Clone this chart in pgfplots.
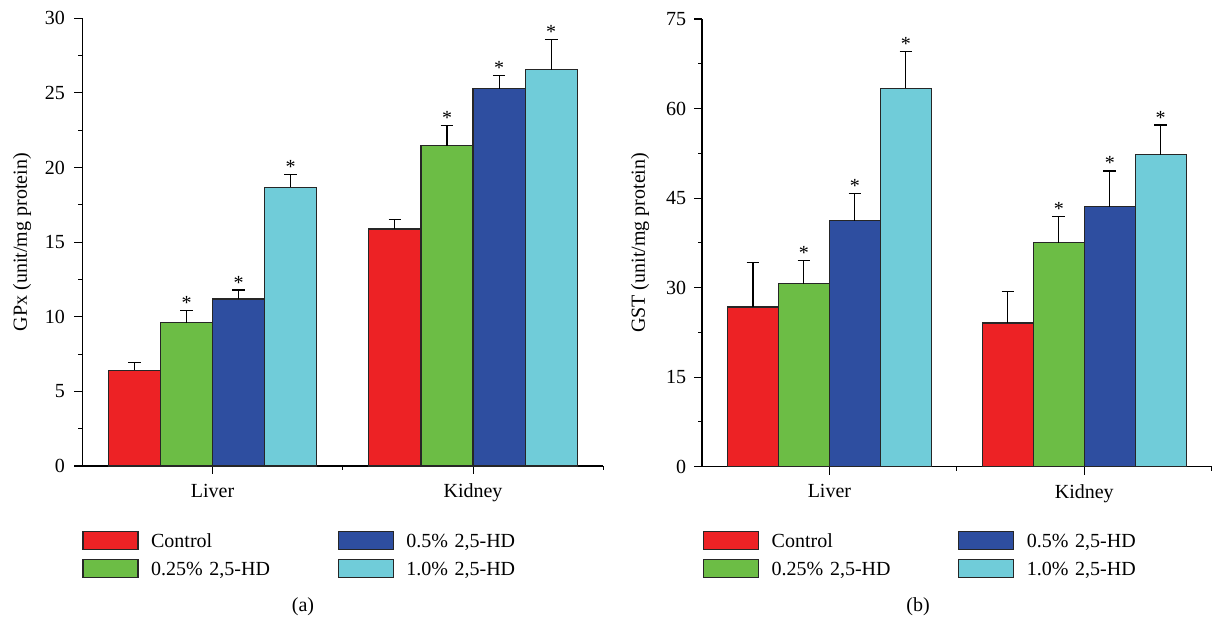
\documentclass[border=0pt]{standalone}
\usepackage{fontspec}
\setmainfont{Liberation Serif}
\usepackage{pgfplots}
\usepackage{pgfplotstable}
\pgfplotsset{compat=1.18}

\definecolor{cCtl}{RGB}{237,34,37}
\definecolor{cLow}{RGB}{108,189,69}
\definecolor{cMid}{RGB}{46,78,160}
\definecolor{cHigh}{RGB}{112,204,217}
\newcommand\ff{\fontsize{20}{24}\selectfont}

% x: 1 = Liver, 2 = Kidney; c = control, a = 0.25%, b = 0.5%, d = 1.0%; e = SD
\pgfplotstableread{
x  c     ce    a     ae    b     be    d     de
1  6.41  0.54  9.60  0.83  11.19 0.60  18.68 0.87
2  15.88 0.63  21.45 1.38  25.27 0.89  26.56 2.00
}\gpx
\pgfplotstableread{
x  c     ce    a     ae    b     be    d     de
1  26.75 7.43  30.66 3.85  41.21 4.59  63.39 6.14
2  24.07 5.31  37.53 4.42  43.56 5.98  52.27 4.97
}\gst

\pgfplotsset{
  panel/.style={
    scale only axis, height=447.7pt, ymin=0, xmin=0.5, xmax=2.5,
    axis x line*=bottom, axis y line*=left,
    axis line style={line width=1.1pt,-},
    tick align=outside, major tick length=8pt, minor tick length=4pt,
    tick style={line width=1.1pt, black},
    xtick={1,2}, xticklabels={Liver,Kidney}, minor xtick={1.5,2.5},
    minor y tick num=1,
    /pgf/number format/assume math mode=true,
    tick label style={font=\ff}, label style={font=\ff},
    xticklabel style={yshift=-3pt},
    clip=false,
    legend columns=2, transpose legend,
    legend image code/.code={\draw[##1] (0pt,-2pt) rectangle (55pt,16pt);},
    legend style={draw=none, fill=none, inner sep=0pt, outer sep=0pt,
      anchor=north west, row sep=6pt, column sep=12.5pt, font=\ff,
      nodes={inner sep=0pt, anchor=base west, text width=174pt,
        text height=14pt, text depth=5pt}},
  },
  bars/.style={ybar, bar width=0.2, bar shift=0pt, draw=black!85, line width=1.2pt,
    error bars/y dir=plus, error bars/y explicit,
    error bars/error mark=|,
    error bars/error bar style={black, line width=1.1pt},
    error bars/error mark options={black, line width=1.1pt, mark size=6.3pt}},
  stars/.style={draw=none, mark=none, forget plot, nodes near coords={*},
    every node near coord/.append style={anchor=base, inner sep=0pt,
      yshift=1pt, black, font=\ff}},
}

\begin{document}
\ff
\begin{tikzpicture}
\useasboundingbox (0,0) rectangle (1213pt,620pt);

\begin{axis}[panel, at={(82.3pt,154pt)}, anchor=south west, width=521pt,
  ymax=30, ytick={0,5,...,30}, yticklabel style={xshift=-2.5pt},
  ylabel={GPx (unit/mg protein)},
  ylabel style={at={(axis description cs:-0.1157,0.5)}, anchor=center},
  legend style={at={(axis description cs:0.0002,-0.1452)}}]
\addplot[bars, fill=cCtl] table[x expr=\thisrow{x}-0.3, y=c, y error=ce] {\gpx};
\addlegendentry{Control}
\addplot[bars, fill=cLow] table[x expr=\thisrow{x}-0.1, y=a, y error=ae] {\gpx};
\addlegendentry{0.25\% 2,5-HD}
\addplot[bars, fill=cMid] table[x expr=\thisrow{x}+0.1, y=b, y error=be] {\gpx};
\addlegendentry{0.5\% 2,5-HD}
\addplot[bars, fill=cHigh] table[x expr=\thisrow{x}+0.3, y=d, y error=de] {\gpx};
\addlegendentry{1.0\% 2,5-HD}
\addplot[stars] table[x expr=\thisrow{x}-0.1, y expr=\thisrow{a}+\thisrow{ae}] {\gpx};
\addplot[stars] table[x expr=\thisrow{x}+0.1, y expr=\thisrow{b}+\thisrow{be}] {\gpx};
\addplot[stars] table[x expr=\thisrow{x}+0.3, y expr=\thisrow{d}+\thisrow{de}] {\gpx};
\end{axis}

\begin{axis}[panel, at={(702pt,153.3pt)}, anchor=south west, width=509.7pt,
  ymax=75, ytick={0,15,...,75}, yticklabel style={xshift=-1pt},
  ylabel={GST (unit/mg protein)},
  ylabel style={at={(axis description cs:-0.1216,0.5)}, anchor=center},
  legend style={at={(axis description cs:0.002,-0.1436)}}]
\addplot[bars, fill=cCtl] table[x expr=\thisrow{x}-0.3, y=c, y error=ce] {\gst};
\addlegendentry{Control}
\addplot[bars, fill=cLow] table[x expr=\thisrow{x}-0.1, y=a, y error=ae] {\gst};
\addlegendentry{0.25\% 2,5-HD}
\addplot[bars, fill=cMid] table[x expr=\thisrow{x}+0.1, y=b, y error=be] {\gst};
\addlegendentry{0.5\% 2,5-HD}
\addplot[bars, fill=cHigh] table[x expr=\thisrow{x}+0.3, y=d, y error=de] {\gst};
\addlegendentry{1.0\% 2,5-HD}
\addplot[stars] table[x expr=\thisrow{x}-0.1, y expr=\thisrow{a}+\thisrow{ae}] {\gst};
\addplot[stars] table[x expr=\thisrow{x}+0.1, y expr=\thisrow{b}+\thisrow{be}] {\gst};
\addplot[stars] table[x expr=\thisrow{x}+0.3, y expr=\thisrow{d}+\thisrow{de}] {\gst};
\end{axis}

\node at (303pt,13pt) {(a)};
\node at (918pt,13pt) {(b)};
\end{tikzpicture}
\end{document}
